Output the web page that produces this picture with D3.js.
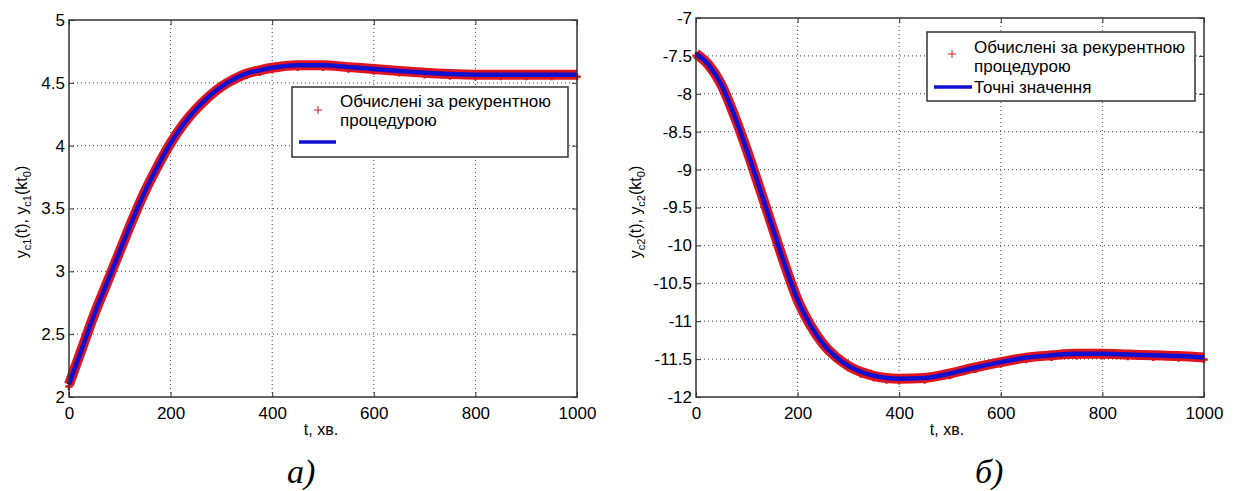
<!DOCTYPE html>
<html><head><meta charset="utf-8">
<script src="https://cdn.jsdelivr.net/npm/d3@7"></script>
<style>
html,body{margin:0;padding:0;background:#fff;}
svg text{font-family:"Liberation Sans",Arial,sans-serif;fill:#000;}
</style></head>
<body>
<svg id="c" width="1237" height="491"></svg>
<script>
// ---- data ----
const tA = [0,25,50,75,100,125,150,175,200,225,250,275,300,325,350,375,400,450,500,550,600,650,700,750,800,850,900,950,1000];
const yA = [2.10,2.38,2.66,2.91,3.16,3.41,3.64,3.84,4.02,4.17,4.29,4.39,4.47,4.53,4.575,4.60,4.62,4.64,4.64,4.625,4.61,4.595,4.58,4.57,4.565,4.565,4.565,4.565,4.565];
const tB = [0,25,50,75,100,125,150,175,200,225,250,275,300,325,350,375,400,450,500,550,600,650,700,750,800,850,900,950,1000];
const yB = [-7.47,-7.62,-7.88,-8.28,-8.74,-9.24,-9.75,-10.26,-10.72,-11.05,-11.30,-11.47,-11.59,-11.67,-11.72,-11.75,-11.76,-11.75,-11.69,-11.61,-11.54,-11.48,-11.45,-11.43,-11.43,-11.44,-11.45,-11.46,-11.48];
const xTicks = [0,200,400,600,800,1000];
const yTicksA = [2,2.5,3,3.5,4,4.5,5];
const yTicksB = [-12,-11.5,-11,-10.5,-10,-9.5,-9,-8.5,-8,-7.5,-7];
const legendComputed = "Обчислені за рекурентною";
const legendComputed2 = "процедурою";
const legendExact = "Точні значення";
const xLabel = "t, хв.";

const svg = d3.select("#c");

function panel(o){
  const x = d3.scaleLinear().domain([0,1000]).range([o.x0,o.x1]);
  const y = d3.scaleLinear().domain(o.ydom).range([o.y1,o.y0]);
  const g = svg.append("g");
  // grid
  g.selectAll(".gx").data(xTicks.slice(1,-1)).join("line")
    .attr("x1",d=>x(d)).attr("x2",d=>x(d)).attr("y1",o.y0).attr("y2",o.y1)
    .attr("stroke","#444").attr("stroke-width",1).attr("stroke-dasharray","1,3");
  g.selectAll(".gy").data(o.yticks.slice(1,-1)).join("line")
    .attr("y1",d=>y(d)).attr("y2",d=>y(d)).attr("x1",o.x0).attr("x2",o.x1)
    .attr("stroke","#444").attr("stroke-width",1).attr("stroke-dasharray","1,3");
  // axes (inward ticks)
  const ax = g.append("g").attr("transform",`translate(0,${o.y1})`)
    .call(d3.axisBottom(x).tickValues(xTicks).tickSizeInner(-5).tickSizeOuter(0).tickPadding(10).tickFormat(d3.format("d")));
  ax.selectAll("text").attr("font-size",17).attr("dy","0.72em");
  const axt = g.append("g").attr("transform",`translate(0,${o.y0})`)
    .call(d3.axisTop(x).tickValues(xTicks).tickSizeInner(-5).tickSizeOuter(0).tickFormat(""));
  const ay = g.append("g").attr("transform",`translate(${o.x0},0)`)
    .call(d3.axisLeft(y).tickValues(o.yticks).tickSizeInner(-5).tickSizeOuter(0).tickPadding(4).tickFormat(d=>String(d).replace("-","-")));
  ay.selectAll("text").attr("font-size",17);
  const ayr = g.append("g").attr("transform",`translate(${o.x1},0)`)
    .call(d3.axisRight(y).tickValues(o.yticks).tickSizeInner(-5).tickSizeOuter(0).tickFormat(""));
  [ax,axt,ay,ayr].forEach(a=>{a.select(".domain").remove(); a.selectAll("line").attr("stroke","#333");});
  // curves
  const data = o.t.map((t,i)=>[t,o.v[i]]);
  const line = d3.line().x(d=>x(d[0])).y(d=>y(d[1])).curve(d3.curveMonotoneX);
  g.append("path").attr("d",line(data)).attr("fill","none").attr("stroke","#e0141e").attr("stroke-width",10);
  g.selectAll(".pt").data(data).join("path")
    .attr("d",d3.symbol(d3.symbolCross,30)()).attr("transform",d=>`translate(${x(d[0])},${y(d[1])+2})`)
    .attr("fill","#e0141e");
  g.append("path").attr("d",line(data)).attr("fill","none").attr("stroke","#1010d0").attr("stroke-width",4.5);
  // frame
  g.append("rect").attr("x",o.x0).attr("y",o.y0).attr("width",o.x1-o.x0).attr("height",o.y1-o.y0)
    .attr("fill","none").attr("stroke","#333").attr("stroke-width",1.5);
  // x label
  g.append("text").attr("x",o.xlab).attr("y",435).attr("text-anchor","middle").attr("font-size",16).text(xLabel);
  // y label
  const yl = g.append("text").attr("transform",`translate(${o.ylabx},${o.ylaby}) rotate(-90)`)
    .attr("text-anchor","middle").attr("font-size",16);
  yl.append("tspan").text("y");
  yl.append("tspan").attr("font-size",11).attr("dy",4).text(o.sub);
  yl.append("tspan").attr("dy",-4).text("(t), y");
  yl.append("tspan").attr("font-size",11).attr("dy",4).text(o.sub);
  yl.append("tspan").attr("dy",-4).text("(kt");
  yl.append("tspan").attr("font-size",11).attr("dy",4).text("0");
  yl.append("tspan").attr("dy",-4).text(")");
  // caption
  svg.append("text").attr("x",o.cap).attr("y",483).attr("font-family","Liberation Serif")
    .attr("font-style","italic").attr("font-size",34).style("font-family","'Liberation Serif',serif").text(o.capText);
  return {x,y,g};
}

const A = panel({x0:69,x1:577,y0:20,y1:397,ydom:[2,5],yticks:yTicksA,t:tA,v:yA,xlab:321,ylabx:27,ylaby:212,sub:"c1",cap:287,capText:"а)"});
const B = panel({x0:696,x1:1204,y0:18,y1:397,ydom:[-12,-7],yticks:yTicksB,t:tB,v:yB,xlab:947,ylabx:641,ylaby:212,sub:"c2",cap:975,capText:"б)"});

// legends
function legend(L){
  const g = svg.append("g");
  g.append("rect").attr("x",L.x0).attr("y",L.y0).attr("width",L.x1-L.x0).attr("height",L.y1-L.y0)
    .attr("fill","#fff").attr("stroke","#333").attr("stroke-width",1.5);
  g.append("path").attr("d",d3.symbol(d3.symbolCross,40)()).attr("transform",`translate(${L.px},${L.py})`).attr("fill","none");
  g.append("line").attr("x1",L.px-4).attr("x2",L.px+4).attr("y1",L.py).attr("y2",L.py).attr("stroke","#d02020").attr("stroke-width",1);
  g.append("line").attr("x1",L.px).attr("x2",L.px).attr("y1",L.py-4).attr("y2",L.py+4).attr("stroke","#d02020").attr("stroke-width",1);
  g.append("text").attr("x",L.tx).attr("y",L.b1).attr("font-size",17).text(legendComputed);
  g.append("text").attr("x",L.tx).attr("y",L.b2).attr("font-size",17).text(legendComputed2);
  g.append("line").attr("x1",L.lx0).attr("x2",L.lx1).attr("y1",L.ly).attr("y2",L.ly).attr("stroke","#1010d0").attr("stroke-width",3.5);
  if(L.exact) g.append("text").attr("x",L.tx).attr("y",L.b3).attr("font-size",17).text(legendExact);
}
legend({x0:292,x1:568,y0:87,y1:157,px:318,py:110,tx:340,b1:107,b2:126,lx0:299,lx1:336,ly:142,exact:false});
legend({x0:927,x1:1195,y0:32,y1:101,px:952,py:54,tx:974,b1:53,b2:72,b3:93,lx0:934,lx1:972,ly:87,exact:true});
</script>
</body></html>
